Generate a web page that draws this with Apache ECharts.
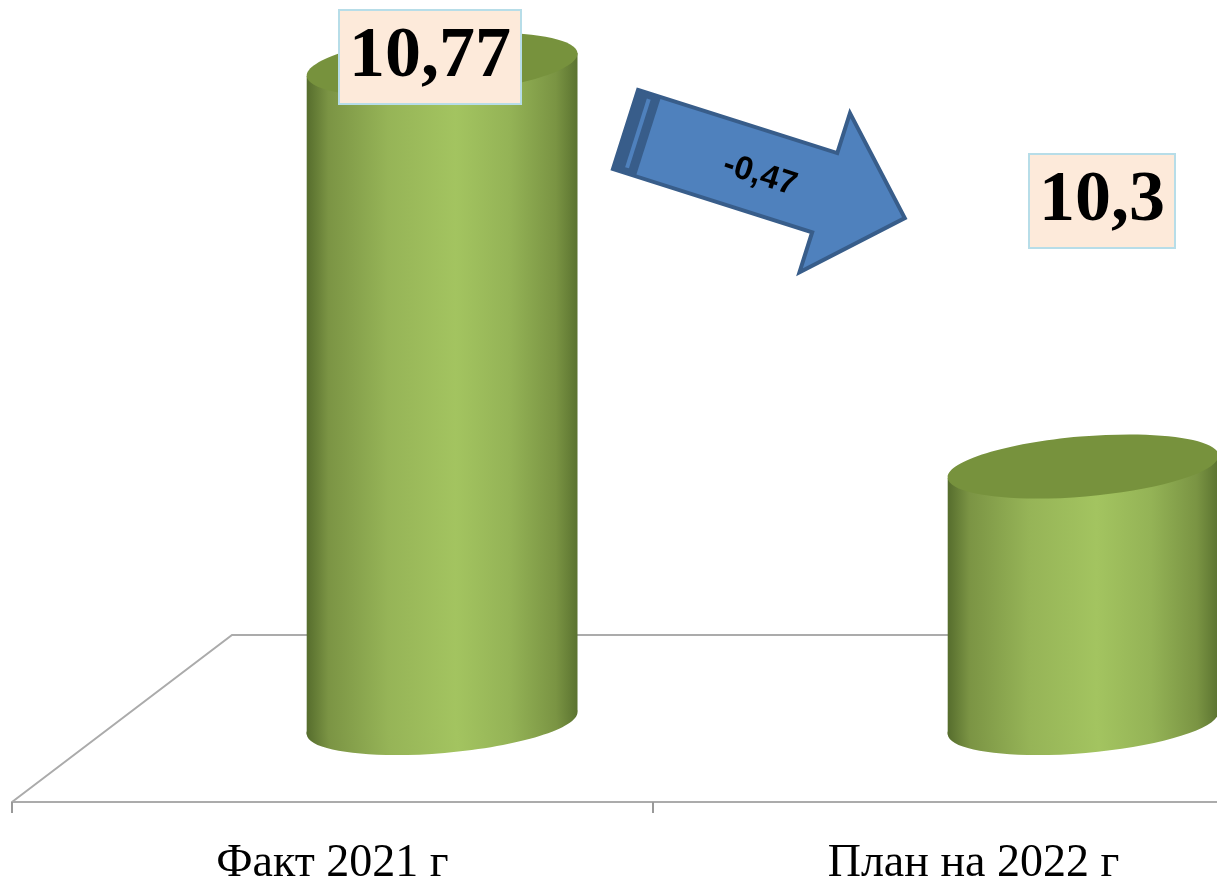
<!DOCTYPE html>
<html>
<head>
<meta charset="utf-8">
<script src="https://cdn.jsdelivr.net/npm/echarts@6/dist/echarts.min.js"></script>
<style>
  html, body { margin: 0; padding: 0; background: #ffffff; }
  #chart { width: 1217px; height: 881px; }
</style>
</head>
<body>
<div id="chart"></div>
<script>
// данные
const categories = ['Факт 2021 г', 'План на 2022 г']
const values = [10.77, 10.3]
const axisMin = 10
const axisMax = 10.8

// подписи значений: запятая как десятичный разделитель
const fmt = v => String(v).replace('.', ',')
const diff = (values[1] - values[0]).toFixed(2).replace('.', ',')

const chart = echarts.init(document.getElementById('chart'))

const tilt = 0.085
const sideGradient = () => ({
  type: 'linear', x: 0, y: 0, x2: 1, y2: 0,
  colorStops: [
    { offset: 0, color: '#566d2d' },
    { offset: 0.08, color: '#7b9444' },
    { offset: 0.3, color: '#96b457' },
    { offset: 0.55, color: '#a3c460' },
    { offset: 0.75, color: '#94b356' },
    { offset: 0.92, color: '#7a9443' },
    { offset: 1, color: '#5b7330' }
  ]
})

function renderCylinder (params, api) {
  const i = api.value(0)
  const top = api.coord([i, api.value(1)])
  const base = api.coord([i, axisMin])
  const band = api.size([1, 0])[0]
  const rx = band * 0.212
  const ry = 30
  const cx = top[0] + band * 0.171
  const ty = top[1] - 79
  const by = base[1] - 79
  const c = Math.cos(tilt)
  const s = Math.sin(tilt)
  return {
    type: 'group',
    children: [
      {
        type: 'ellipse',
        x: cx, y: by, rotation: tilt,
        shape: { cx: 0, cy: 0, rx: rx, ry: ry },
        style: { fill: sideGradient() }
      },
      {
        type: 'polygon',
        shape: {
          points: [
            [cx - rx * c, ty + rx * s], [cx + rx * c, ty - rx * s],
            [cx + rx * c, by - rx * s], [cx - rx * c, by + rx * s]
          ]
        },
        style: { fill: sideGradient() }
      },
      {
        type: 'ellipse',
        x: cx, y: ty, rotation: tilt,
        shape: { cx: 0, cy: 0, rx: rx, ry: ry },
        style: { fill: '#77923d' }
      }
    ]
  }
}

const labelBox = {
  font: 'bold 72px "Liberation Serif"',
  fill: '#000',
  backgroundColor: '#fdeada',
  borderColor: '#b7dde8',
  borderWidth: 2,
  padding: [11, 9, 1, 9],
  lineHeight: 80,
  align: 'center',
  verticalAlign: 'middle'
}

const option = {
  animation: false,
  grid: { left: 12, width: 1282, top: 118, height: 684, outerBoundsMode: 'none' },
  xAxis: {
    type: 'category',
    data: categories,
    axisLine: { lineStyle: { color: '#ababab', width: 2 } },
    axisTick: { show: true, length: 11, lineStyle: { color: '#999', width: 2 } },
    axisLabel: {
      margin: 39,
      fontSize: 46,
      fontFamily: 'Liberation Serif',
      color: '#000'
    }
  },
  yAxis: {
    type: 'value',
    min: axisMin,
    max: axisMax,
    show: false
  },
  series: [{
    type: 'custom',
    renderItem: renderCylinder,
    encode: { x: 0, y: 1 },
    data: values.map((v, i) => [i, v]),
    z: 2
  }],
  graphic: [
    // пол
    {
      type: 'polyline',
      z: 0,
      shape: { points: [[12, 802], [232, 635], [1217, 635]] },
      style: { stroke: '#ababab', lineWidth: 2, fill: null }
    },
    // стрелка
    {
      type: 'group',
      x: 625.5,
      y: 129.5,
      rotation: -0.307,
      z: 10,
      children: [
        {
          type: 'polygon',
          shape: {
            points: [[0, -41.5], [209, -41.5], [209, -83.5], [293, 0], [209, 83.5], [209, 41.5], [0, 41.5]]
          },
          style: { fill: '#4f81bd', stroke: '#385d8a', lineWidth: 4, lineJoin: 'miter' }
        },
        {
          type: 'rect',
          shape: { x: 0, y: -41.5, width: 24, height: 83 },
          style: { fill: '#385d8a' }
        },
        {
          type: 'rect',
          shape: { x: 11, y: -36, width: 4, height: 72 },
          style: { fill: '#4f81bd' }
        },
        {
          type: 'text',
          x: 142,
          y: 3,
          style: {
            text: diff,
            font: 'bold 33px "Liberation Sans"',
            fill: '#000',
            align: 'center',
            verticalAlign: 'middle'
          }
        }
      ]
    },
    // подписи значений
    {
      type: 'text', x: 430, y: 57, z: 10,
      style: Object.assign({ text: fmt(values[0]) }, labelBox)
    },
    {
      type: 'text', x: 1102, y: 201, z: 10,
      style: Object.assign({ text: fmt(values[1]) }, labelBox)
    }
  ]
}

chart.setOption(option)
</script>
</body>
</html>
